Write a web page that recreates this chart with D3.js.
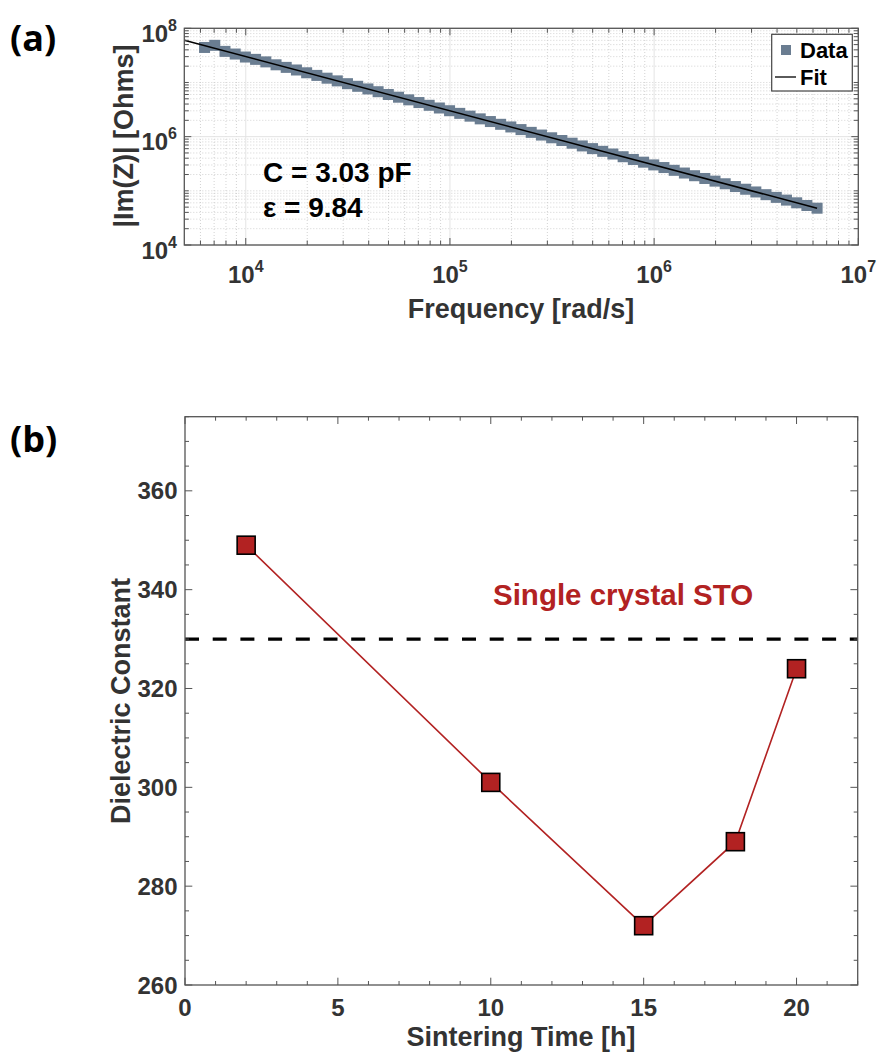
<!DOCTYPE html>
<html><head><meta charset="utf-8">
<script src="https://cdn.jsdelivr.net/npm/d3@7"></script>
<style>body{margin:0;background:#fff}svg{display:block}</style>
</head><body>
<svg id="c" width="881" height="1053"></svg>
<script>
// ---------- Panel (a) data ----------
const freqData = [6283, 7050, 7911, 8877, 9958, 11170, 12540, 14070, 15780, 17710, 19870, 22290, 25010, 28070, 31490, 35330, 39650, 44480, 49910, 56000,
  62830, 70500, 79110, 88770, 99580, 111700, 125400, 140700, 157800, 177100, 198700, 222900, 250100, 280700, 314900, 353300, 396500, 444800, 499100, 560000,
  628300, 705000, 791100, 887700, 995800, 1117000, 1254000, 1407000, 1578000, 1771000, 1987000, 2229000, 2501000, 2807000, 3149000, 3533000, 3965000, 4448000, 4991000, 5600000, 6283000];
const imZData = [4.43e7, 4.85e7, 3.75e7, 3.35e7, 2.95e7, 2.67e7, 2.40e7, 2.12e7, 1.90e7, 1.70e7, 1.51e7, 1.35e7, 1.20e7, 1.07e7, 9.5e6, 8.5e6, 7.6e6, 6.75e6, 6.0e6, 5.35e6,
  4.78e6, 4.26e6, 3.79e6, 3.38e6, 3.01e6, 2.69e6, 2.39e6, 2.13e6, 1.90e6, 1.69e6, 1.51e6, 1.35e6, 1.20e6, 1.07e6, 9.53e5, 8.49e5, 7.57e5, 6.74e5, 6.01e5, 5.36e5,
  4.78e5, 4.26e5, 3.79e5, 3.38e5, 3.01e5, 2.69e5, 2.39e5, 2.13e5, 1.90e5, 1.69e5, 1.51e5, 1.35e5, 1.20e5, 1.07e5, 9.53e4, 8.49e4, 7.57e4, 6.74e4, 6.01e4, 5.36e4, 4.78e4];
const fitFreq = [5000, 6283000];
const fitZ = [6.0e7, 4.78e4];
const xTicksA = [1e4, 1e5, 1e6, 1e7];
const xTickExpA = ["4", "5", "6", "7"];
const yTicksA = [1e4, 1e6, 1e8];
const yTickExpA = ["4", "6", "8"];
const annotA = ["C = 3.03 pF", "ε = 9.84"];
const legendA = ["Data", "Fit"];

// ---------- Panel (b) data ----------
const sinterTime = [2, 10, 15, 18, 20];
const dielectric = [349, 301, 272, 289, 324];
const singleCrystal = 330;
const xTicksB = [0, 5, 10, 15, 20];
const yTicksB = [260, 280, 300, 320, 340, 360];

const svg = d3.select("#c");
const FONT = "'Liberation Sans', Arial, Helvetica, sans-serif";
const AX = "#555";
const TXT = "#333";

// ================= Panel (a) =================
const xa = d3.scaleLog().domain([5000, 1e7]).range([184.3, 858.3]);
const ya = d3.scaleLog().domain([1e4, 1e8]).range([245, 28.3]);
const ga = svg.append("g");

const minorX = [], minorY = [];
for (let e = 3; e <= 6; e++) for (let k = 2; k <= 9; k++) { const v = k * Math.pow(10, e); if (v > 5000 && v < 1e7) minorX.push(v); }
for (let e = 4; e <= 7; e++) for (let k = 1; k <= 9; k++) { const v = k * Math.pow(10, e); if (v > 1e4 && v < 1e8 && !yTicksA.includes(v)) minorY.push(v); }

ga.append("g").selectAll("line").data(minorX).join("line")
  .attr("x1", d => xa(d)).attr("x2", d => xa(d)).attr("y1", ya.range()[0]).attr("y2", ya.range()[1])
  .attr("stroke", "#c8c8c8").attr("stroke-width", 0.8).attr("stroke-dasharray", "1,2");
ga.append("g").selectAll("line").data(minorY).join("line")
  .attr("y1", d => ya(d)).attr("y2", d => ya(d)).attr("x1", xa.range()[0]).attr("x2", xa.range()[1])
  .attr("stroke", "#c8c8c8").attr("stroke-width", 0.8).attr("stroke-dasharray", "1,2");
ga.append("g").selectAll("line").data(xTicksA).join("line")
  .attr("x1", d => xa(d)).attr("x2", d => xa(d)).attr("y1", ya.range()[0]).attr("y2", ya.range()[1])
  .attr("stroke", "#e4e4e4").attr("stroke-width", 1);
ga.append("g").selectAll("line").data(yTicksA).join("line")
  .attr("y1", d => ya(d)).attr("y2", d => ya(d)).attr("x1", xa.range()[0]).attr("x2", xa.range()[1])
  .attr("stroke", "#e4e4e4").attr("stroke-width", 1);

const sq = 11;
ga.append("g").selectAll("rect").data(freqData.map((f, i) => [f, imZData[i]])).join("rect")
  .attr("x", d => xa(d[0]) - sq / 2).attr("y", d => ya(d[1]) - sq / 2)
  .attr("width", sq).attr("height", sq).attr("fill", "#6a7d91");
ga.append("path").datum(fitFreq.map((f, i) => [f, fitZ[i]]))
  .attr("d", d3.line().x(d => xa(d[0])).y(d => ya(d[1])))
  .attr("fill", "none").attr("stroke", "#000").attr("stroke-width", 1.5);

function logAxes(g, xs, ys, xMaj, yMaj, xMin, yMin) {
  const [x0, x1] = xs.range(), [y0, y1] = ys.range();
  const t = g.append("g").attr("stroke", AX).attr("stroke-width", 1);
  xMaj.concat(xMin).forEach(v => {
    const L = xMaj.includes(v) ? 7 : 4.5;
    t.append("line").attr("x1", xs(v)).attr("x2", xs(v)).attr("y1", y0).attr("y2", y0 - L);
    t.append("line").attr("x1", xs(v)).attr("x2", xs(v)).attr("y1", y1).attr("y2", y1 + L);
  });
  yMaj.concat(yMin).forEach(v => {
    const L = yMaj.includes(v) ? 7 : 4.5;
    t.append("line").attr("y1", ys(v)).attr("y2", ys(v)).attr("x1", x0).attr("x2", x0 + L);
    t.append("line").attr("y1", ys(v)).attr("y2", ys(v)).attr("x1", x1).attr("x2", x1 - L);
  });
  g.append("rect").attr("x", x0).attr("y", y1).attr("width", x1 - x0).attr("height", y0 - y1)
    .attr("fill", "none").attr("stroke", AX).attr("stroke-width", 1.3);
}
logAxes(ga, xa, ya, xTicksA, yTicksA, minorX, minorY);

ga.append("g").selectAll("text").data(xTicksA).join("text")
  .attr("x", d => xa(d)).attr("y", 283).attr("text-anchor", "middle")
  .attr("font-family", FONT).attr("font-weight", "bold").attr("font-size", 24).attr("fill", TXT)
  .each(function (d, i) {
    const s = d3.select(this);
    s.append("tspan").text("10");
    s.append("tspan").attr("dy", -11).attr("font-size", 16).text(xTickExpA[i]);
  });
ga.append("g").selectAll("text").data(yTicksA).join("text")
  .attr("x", 177).attr("y", d => ya(d) + 13.5).attr("text-anchor", "end")
  .attr("font-family", FONT).attr("font-weight", "bold").attr("font-size", 24).attr("fill", TXT)
  .each(function (d, i) {
    const s = d3.select(this);
    s.append("tspan").text("10");
    s.append("tspan").attr("dy", -11).attr("font-size", 16).text(yTickExpA[i]);
  });

ga.append("text").attr("x", 521).attr("y", 318).attr("text-anchor", "middle")
  .attr("font-family", FONT).attr("font-weight", "bold").attr("font-size", 27).attr("fill", TXT)
  .text("Frequency [rad/s]");
ga.append("text").attr("transform", "translate(133,136) rotate(-90)").attr("text-anchor", "middle")
  .attr("font-family", FONT).attr("font-weight", "bold").attr("font-size", 27).attr("fill", TXT)
  .text("|Im(Z)| [Ohms]");

ga.selectAll("text.ann").data(annotA).join("text").attr("class", "ann")
  .attr("x", 263).attr("y", (d, i) => 181.5 + i * 35)
  .attr("font-family", FONT).attr("font-weight", "bold").attr("font-size", 28).attr("fill", "#000")
  .text(d => d);

const lg = ga.append("g");
lg.append("rect").attr("x", 771.7).attr("y", 34.3).attr("width", 80.6).attr("height", 56.7)
  .attr("fill", "#fff").attr("stroke", "#444").attr("stroke-width", 1.2);
lg.append("rect").attr("x", 781).attr("y", 45).attr("width", 10).attr("height", 10).attr("fill", "#6a7d91");
lg.append("line").attr("x1", 775).attr("x2", 796).attr("y1", 77).attr("y2", 77).attr("stroke", "#000").attr("stroke-width", 1.3);
lg.selectAll("text").data(legendA).join("text")
  .attr("x", 800).attr("y", (d, i) => 57.5 + i * 27.5)
  .attr("font-family", FONT).attr("font-weight", "bold").attr("font-size", 22).attr("fill", "#000")
  .text(d => d);

// ================= Panel (b) =================
const xb = d3.scaleLinear().domain([0, 22]).range([185, 857.7]);
const yb = d3.scaleLinear().domain([260, 375]).range([985, 416.7]);
const gb = svg.append("g");

gb.append("line").attr("x1", xb(0)).attr("x2", xb(22)).attr("y1", yb(singleCrystal)).attr("y2", yb(singleCrystal))
  .attr("stroke", "#000").attr("stroke-width", 3.2).attr("stroke-dasharray", "14,13.7");
gb.append("text").attr("x", 493).attr("y", 604.5)
  .attr("font-family", FONT).attr("font-weight", "bold").attr("font-size", 29.5).attr("fill", "#b22222")
  .text("Single crystal STO");

const pts = sinterTime.map((t, i) => [t, dielectric[i]]);
gb.append("path").datum(pts).attr("d", d3.line().x(d => xb(d[0])).y(d => yb(d[1])))
  .attr("fill", "none").attr("stroke", "#b22222").attr("stroke-width", 1.6);
gb.append("g").selectAll("rect").data(pts).join("rect")
  .attr("x", d => xb(d[0]) - 9).attr("y", d => yb(d[1]) - 9).attr("width", 18).attr("height", 18)
  .attr("fill", "#b22222").attr("stroke", "#000").attr("stroke-width", 1.6);

const xMinB = d3.range(0, 23).filter(v => !xTicksB.includes(v));
const yMinB = d3.range(260, 376, 5).filter(v => !yTicksB.includes(v));
{
  const [x0, x1] = xb.range(), [y0, y1] = yb.range();
  const t = gb.append("g").attr("stroke", AX).attr("stroke-width", 1);
  xTicksB.concat(xMinB).forEach(v => {
    const L = xTicksB.includes(v) ? 7.3 : 4;
    t.append("line").attr("x1", xb(v)).attr("x2", xb(v)).attr("y1", y0).attr("y2", y0 - L);
    t.append("line").attr("x1", xb(v)).attr("x2", xb(v)).attr("y1", y1).attr("y2", y1 + L);
  });
  yTicksB.concat(yMinB).forEach(v => {
    const L = yTicksB.includes(v) ? 7.3 : 4;
    t.append("line").attr("y1", yb(v)).attr("y2", yb(v)).attr("x1", x0).attr("x2", x0 + L);
    t.append("line").attr("y1", yb(v)).attr("y2", yb(v)).attr("x1", x1).attr("x2", x1 - L);
  });
  gb.append("rect").attr("x", x0).attr("y", y1).attr("width", x1 - x0).attr("height", y0 - y1)
    .attr("fill", "none").attr("stroke", AX).attr("stroke-width", 1.3);
}
gb.append("g").selectAll("text").data(xTicksB).join("text")
  .attr("x", d => xb(d)).attr("y", 1016).attr("text-anchor", "middle")
  .attr("font-family", FONT).attr("font-weight", "bold").attr("font-size", 24).attr("fill", TXT)
  .text(d => d);
gb.append("g").selectAll("text").data(yTicksB).join("text")
  .attr("x", 177.5).attr("y", d => yb(d) + 8.5).attr("text-anchor", "end")
  .attr("font-family", FONT).attr("font-weight", "bold").attr("font-size", 24).attr("fill", TXT)
  .text(d => d);
gb.append("text").attr("x", 521).attr("y", 1046).attr("text-anchor", "middle")
  .attr("font-family", FONT).attr("font-weight", "bold").attr("font-size", 27).attr("fill", TXT)
  .text("Sintering Time [h]");
gb.append("text").attr("transform", "translate(130,701) rotate(-90)").attr("text-anchor", "middle")
  .attr("font-family", FONT).attr("font-weight", "bold").attr("font-size", 27).attr("fill", TXT)
  .text("Dielectric Constant");

svg.append("text").attr("x", 10).attr("y", 51).attr("font-family", "'Open Sans', 'Noto Sans', sans-serif")
  .attr("font-weight", "bold").attr("font-size", 36).attr("fill", "#000").text("(a)");
svg.append("text").attr("x", 10).attr("y", 452).attr("font-family", "'Open Sans', 'Noto Sans', sans-serif")
  .attr("font-weight", "bold").attr("font-size", 36).attr("fill", "#000").text("(b)");
</script>
</body></html>
